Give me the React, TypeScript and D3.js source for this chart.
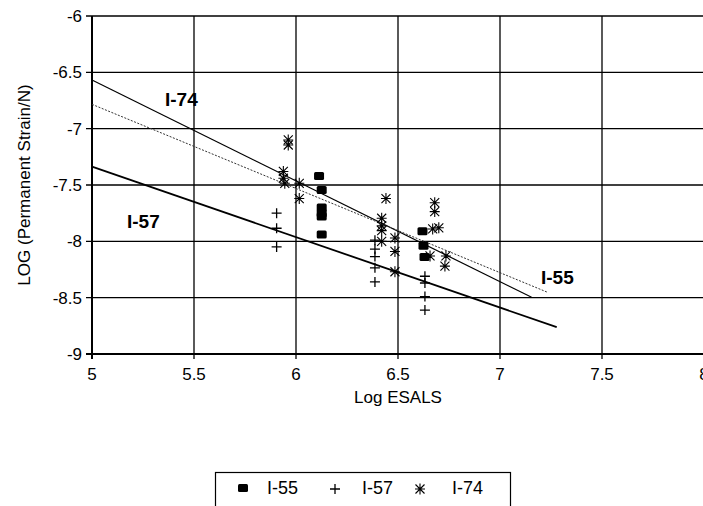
import * as d3 from 'd3'

// axis ticks
const xTicks = [5, 5.5, 6, 6.5, 7, 7.5, 8]
const yTicks = [-6, -6.5, -7, -7.5, -8, -8.5, -9]

// measured points (Log ESALS, LOG strain/N)
const i55X = [6.113, 6.126, 6.126, 6.126, 6.126, 6.126, 6.62, 6.625, 6.63]
const i55Y = [-7.42, -7.545, -7.7, -7.75, -7.78, -7.94, -7.91, -8.04, -8.14]

const i57X = [5.905, 5.905, 5.905, 6.387, 6.387, 6.387, 6.387, 6.387, 6.632, 6.632, 6.632, 6.632]
const i57Y = [-7.75, -7.884, -8.05, -7.99, -8.07, -8.135, -8.235, -8.36, -8.31, -8.37, -8.49, -8.61]

const i74X = [5.962, 5.962, 5.938, 5.938, 5.945, 6.016, 6.016, 6.441, 6.42, 6.42, 6.42, 6.42, 6.485, 6.485, 6.485, 6.68, 6.68, 6.67, 6.7, 6.657, 6.735, 6.73]
const i74Y = [-7.1, -7.145, -7.38, -7.44, -7.485, -7.485, -7.62, -7.62, -7.795, -7.863, -7.905, -8.0, -7.97, -8.09, -8.27, -7.657, -7.736, -7.89, -7.88, -8.13, -8.13, -8.22]

// regression lines: [x0, y0, x1, y1]
const i74Fit = [5, -6.568, 7.155, -8.497]
const i55Fit = [5, -6.784, 7.23, -8.45]
const i57Fit = [5, -7.337, 7.278, -8.762]

const W = 703
const H = 506
const margin = { left: 92, top: 16, right: 704, bottom: 354 }

const x = d3.scaleLinear().domain([5, 8]).range([margin.left, margin.right])
const y = d3.scaleLinear().domain([-9, -6]).range([margin.bottom, margin.top])

const font = '"Liberation Sans", Arial, sans-serif'

const Square = ({ cx, cy }: { cx: number; cy: number }) => (
  <rect x={cx - 5} y={cy - 4} width={10} height={8} rx={1.5} fill="#000" />
)
const Plus = ({ cx, cy }: { cx: number; cy: number }) => (
  <path d={`M${cx - 5},${cy}H${cx + 5}M${cx},${cy - 5}V${cy + 5}`} stroke="#000" strokeWidth={1.3} fill="none" />
)
const Star = ({ cx, cy }: { cx: number; cy: number }) => (
  <path
    d={`M${cx - 4.5},${cy - 4.5}L${cx + 4.5},${cy + 4.5}M${cx - 4.5},${cy + 4.5}L${cx + 4.5},${cy - 4.5}M${cx},${cy - 5.5}V${cy + 5.5}M${cx - 5},${cy}H${cx + 5}`}
    stroke="#000"
    strokeWidth={1.1}
    fill="none"
  />
)

const fitLine = (f: number[]) => d3.line()([[x(f[0]), y(f[1])], [x(f[2]), y(f[3])]]) as string

export default function App() {
  return (
    <svg width={W} height={H} style={{ position: 'absolute', left: 0, top: 0, background: '#fff' }} fontFamily={font}>
      {/* grid */}
      {xTicks.map((t) => (
        <line key={'gx' + t} x1={x(t)} x2={x(t)} y1={margin.top} y2={margin.bottom + 5} stroke="#000" strokeWidth={t === 5 ? 2 : 1.3} />
      ))}
      {yTicks.map((t) => (
        <line key={'gy' + t} x1={margin.left - 6} x2={margin.right} y1={y(t)} y2={y(t)} stroke="#000" strokeWidth={t === -9 ? 2 : 1.4} />
      ))}

      {/* tick labels */}
      {yTicks.map((t) => (
        <text key={'ty' + t} x={82} y={y(t)} dy="0.36em" textAnchor="end" fontSize={17}>
          {t}
        </text>
      ))}
      {xTicks.map((t) => (
        <text key={'tx' + t} x={x(t)} y={380} textAnchor="middle" fontSize={17}>
          {t}
        </text>
      ))}

      <text x={(margin.left + margin.right) / 2} y={403} textAnchor="middle" fontSize={17}>
        Log ESALS
      </text>
      <text transform={`translate(30,${(margin.top + margin.bottom) / 2}) rotate(-90)`} textAnchor="middle" fontSize={17}>
        LOG (Permanent Strain/N)
      </text>

      {/* fit lines */}
      <path d={fitLine(i74Fit)} stroke="#000" strokeWidth={1.2} fill="none" />
      <path d={fitLine(i55Fit)} stroke="#333" strokeWidth={1} strokeDasharray="2,1.5" fill="none" />
      <path d={fitLine(i57Fit)} stroke="#000" strokeWidth={1.8} fill="none" />

      {/* points */}
      {i55X.map((v, i) => (
        <Square key={'a' + i} cx={x(v)} cy={y(i55Y[i])} />
      ))}
      {i57X.map((v, i) => (
        <Plus key={'b' + i} cx={x(v)} cy={y(i57Y[i])} />
      ))}
      {i74X.map((v, i) => (
        <Star key={'c' + i} cx={x(v)} cy={y(i74Y[i])} />
      ))}

      {/* line labels */}
      <text x={165} y={106} fontSize={19} fontWeight="bold">I-74</text>
      <text x={127} y={228} fontSize={19} fontWeight="bold">I-57</text>
      <text x={541} y={284} fontSize={19} fontWeight="bold">I-55</text>

      {/* legend */}
      <rect x={215.5} y={472.5} width={295} height={45} fill="#fff" stroke="#000" strokeWidth={1.2} />
      <Square cx={243} cy={488} />
      <text x={267} y={494} fontSize={18}>I-55</text>
      <Plus cx={335} cy={489} />
      <text x={362} y={494} fontSize={18}>I-57</text>
      <Star cx={420} cy={489} />
      <text x={452} y={494} fontSize={18}>I-74</text>
    </svg>
  )
}
